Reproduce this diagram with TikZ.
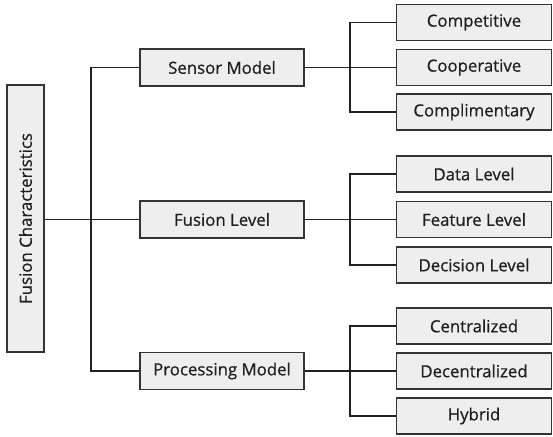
\documentclass[tikz,border=0pt]{standalone}
\usepackage{fontspec}
\setmainfont{Open Sans}[FakeBold=0.6]
\definecolor{boxfill}{HTML}{EEEEEE}
\definecolor{boxline}{HTML}{333333}
\definecolor{wire}{HTML}{222222}
\tikzset{
  labelfont/.style={font=\fontsize{16.8}{20}\selectfont, text=black!88},
  box/.style={draw=boxline, fill=boxfill, line width=1.3pt, inner sep=0pt, labelfont},
  midbox/.style={box, minimum width=164pt, minimum height=37pt},
  leafbox/.style={box, minimum width=155pt, minimum height=36pt},
  wiring/.style={draw=wire, line width=1.1pt},
}
\begin{document}
\begin{tikzpicture}[x=1pt,y=-1pt]
  \useasboundingbox (0,0) rectangle (553,436);
  % root
  \node[box, minimum width=37pt, minimum height=267pt] (root) at (25.5,218.5) {};
  \node[rotate=90, labelfont] (rootlabel) at (root.center) {Fusion Characteristics};
  % middle level
  \node[midbox] (sm) at (222,67.5) {Sensor Model};
  \node[midbox] (fl) at (222,219.5) {Fusion Level};
  \node[midbox] (pm) at (222,371) {Processing Model};
  % leaves
  \node[leafbox] (c1) at (474,22.5) {Competitive};
  \node[leafbox] (c2) at (474,67.5) {Cooperative};
  \node[leafbox] (c3) at (474,112) {Complimentary};
  \node[leafbox] (d1) at (474,174) {Data Level};
  \node[leafbox] (d2) at (474,219.5) {Feature Level};
  \node[leafbox] (d3) at (474,265) {Decision Level};
  \node[leafbox] (p1) at (474,326) {Centralized};
  \node[leafbox] (p2) at (474,371) {Decentralized};
  \node[leafbox] (p3) at (474,416) {Hybrid};
  % trunk positions
  \coordinate (t0) at (91,0);
  \coordinate (t1) at (350,0);
  % root to middle level
  \draw[wiring] (root.east |- fl.west) -- (fl.west);
  \draw[wiring] (sm.west) -- (sm.west -| t0) -- (pm.west -| t0) -- (pm.west);
  % middle level to leaves
  \foreach \m/\a/\b/\c in {sm/c1/c2/c3, fl/d1/d2/d3, pm/p1/p2/p3}{
    \draw[wiring] (\m.east) -- (\b.west);
    \draw[wiring] (\a.west) -- (\a.west -| t1) -- (\c.west -| t1) -- (\c.west);
  }
\end{tikzpicture}
\end{document}
